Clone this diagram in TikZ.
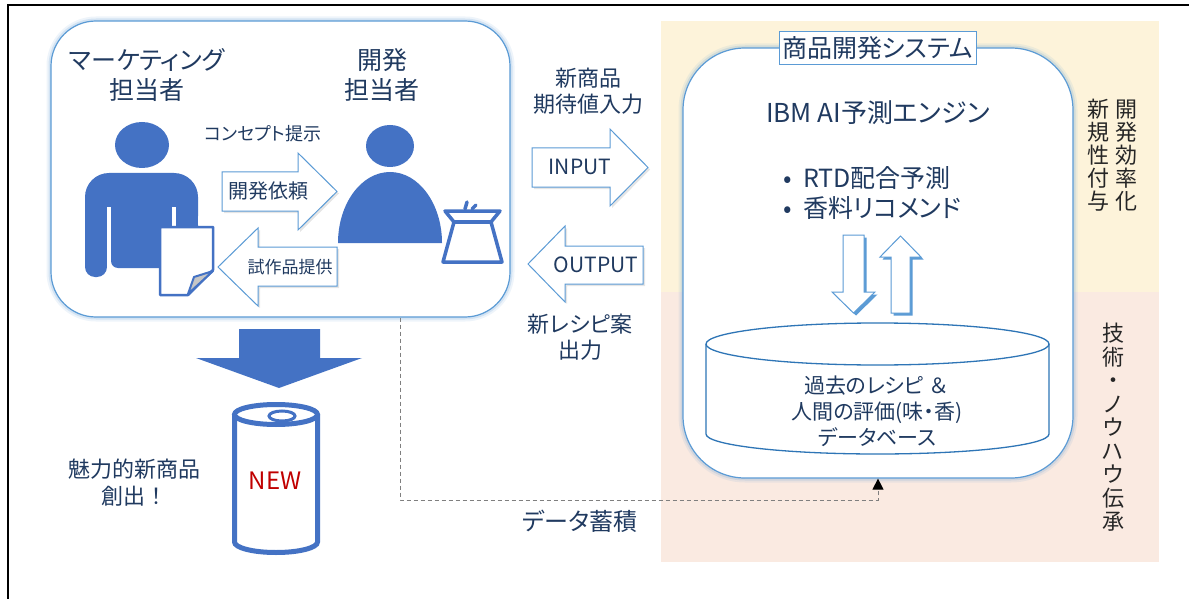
\documentclass[tikz,border=0pt]{standalone}
\usepackage{fontspec}
\setmainfont{Noto Sans CJK JP}[RawFeature=+palt]
\newfontfamily\fullwidth{Noto Sans CJK JP}
\usetikzlibrary{arrows.meta}

\definecolor{ink}{HTML}{203A60}
\definecolor{darkink}{HTML}{262626}
\definecolor{iconblue}{HTML}{4472C4}
\definecolor{edgeblue}{HTML}{5B9BD5}
\definecolor{dbblue}{HTML}{2E75B6}
\definecolor{panelyellow}{HTML}{FDF3DA}
\definecolor{panelpink}{HTML}{FAEAE1}
\definecolor{newred}{HTML}{C00000}
\definecolor{dashgray}{HTML}{7F7F7F}

\newcommand\setfs[2]{\fontsize{#1pt}{#2pt}\selectfont}

\tikzset{
  txt/.style={text=ink, inner sep=0pt, align=center},
  vtxt/.style={text=darkink, inner sep=0pt, align=center, font=\setfs{22}{23}},
  glowbox/.style={draw=edgeblue, line width=1.2, fill=white,
    preaction={draw=edgeblue, draw opacity=0.10, line width=9},
    preaction={draw=edgeblue, draw opacity=0.18, line width=5}},
  hollowarrow/.style={draw=edgeblue, line width=1, fill=white, line join=miter,
    preaction={fill=black, fill opacity=0.10,
      transform canvas={xshift=2pt, yshift=-2pt}}},
  twinarrow/.style={draw=edgeblue, line width=1, fill=white, line join=miter,
    preaction={fill=edgeblue, transform canvas={xshift=2.5pt, yshift=-2.5pt}}},
  icon/.style={fill=iconblue},
}

\begin{document}
\begin{tikzpicture}[x=1pt, y=-1pt]
\useasboundingbox (0,0) rectangle (1189,599);
\fill[white] (0,0) rectangle (1189,599);

% outer frame
\draw[black, line width=1.5] (8,599) -- (8,5) -- (1189,5);

% background bands of the system side
\fill[panelyellow] (661,21) rectangle (1159,292);
\fill[panelpink] (661,292) rectangle (1159,562);

% ---------- team box ----------
\node[glowbox, rounded corners=45, minimum width=459, minimum height=296, inner sep=0pt]
  (team) at (280.5,169) {};

\node[txt, font=\setfs{25}{30}] (mktitle) at (147,75) {マーケティング\\担当者};
\node[txt, font=\setfs{25}{30}] (devtitle) at (382,75) {開発\\担当者};
\node[txt, font=\setfs{18}{20}] (concept) at (263,134) {コンセプト提示};

% marketing person
\fill[icon] (142,145) ellipse [x radius=27pt, y radius=23pt];
\fill[icon, rounded corners=24] (85,173) rectangle (198,240);
\fill[icon] (85,205) rectangle (198,240);
\fill[icon, rounded corners=10] (85,215) rectangle (107,277);
\fill[icon, rounded corners=7] (111,215) rectangle (172,268);
\fill[icon, rounded corners=10] (176,215) rectangle (198,277);
\fill[white] (107,207) rectangle (111,270);
\fill[white] (172,207) rectangle (176,270);

% concept sheet with folded corner
\draw[iconblue, line width=2.5, fill=white, line join=round]
  (160,227) -- (213,227) -- (213,270) -- (188,295) -- (160,295) -- cycle;
\draw[iconblue, line width=2, fill=gray!45, line join=round]
  (213,271) -- (194,277) -- (188,294) -- cycle;

% developer person
\fill[icon] (390,146) ellipse [x radius=24pt, y radius=21pt];
\fill[icon] (338,243) arc [start angle=180, end angle=0, x radius=52pt, y radius=71pt] -- cycle;

% mortar
\draw[iconblue, line width=3.5, line join=round, fill=white]
  (445,211) -- (500,211) -- (491,222) -- (502,262) -- (443,262) -- (454,222) -- cycle;
\draw[iconblue, line width=3.5] (454,222) -- (491,222);
\draw[iconblue, line width=3.5, line cap=round] (465,209) -- (467,202);
\draw[iconblue, line width=3.5, line cap=round] (472,209) -- (476,205);

% request / prototype arrows
\draw[hollowarrow] (222,172) -- (298,172) -- (298,153) -- (337,191.5)
  -- (298,230) -- (298,211) -- (222,211) -- cycle;
\node[txt, font=\setfs{20}{22}] (request) at (268,191) {開発依頼};
\draw[hollowarrow] (218,267) -- (258,228) -- (258,247) -- (337,247)
  -- (337,286) -- (258,286) -- (258,306) -- cycle;
\node[txt, font=\setfs{17}{20}] (proto) at (290,267) {試作品提供};

% ---------- product ----------
\fill[icon] (239,329) -- (320,329) -- (320,358) -- (362,358) -- (279,388)
  -- (196,358) -- (239,358) -- cycle;

\draw[iconblue, line width=5, fill=white] (234.5,414.5) -- (234.5,542)
  arc [start angle=180, end angle=360, x radius=41.5pt, y radius=10.5pt]
  -- (317.5,414.5);
\draw[iconblue, line width=5, fill=white] (276,414.5) ellipse [x radius=41.5pt, y radius=10pt];
\draw[iconblue, line width=3] (282,416) ellipse [x radius=13pt, y radius=5pt];
\node[inner sep=0pt, text=newred, font=\setfs{24}{26}] (newlabel) at (275,481) {NEW};

\node[txt, font=\setfs{22}{27}] (create) at (134,483) {魅力的新商品\\創出{\fullwidth ！}};

% ---------- input / output ----------
\node[txt, font=\setfs{22}{26}] (inlabel) at (588,91) {新商品\\期待値入力};
\draw[hollowarrow] (532,148) -- (610,148) -- (610,129) -- (648,167.5)
  -- (610,206) -- (610,187) -- (532,187) -- cycle;
\node[txt, font=\setfs{21}{24}] (input) at (580,167) {INPUT};
\draw[hollowarrow] (528,264) -- (565,226) -- (565,246) -- (643,246)
  -- (643,284) -- (565,284) -- (565,302) -- cycle;
\node[txt, font=\setfs{21}{24}] (output) at (596,265) {OUTPUT};
\node[txt, font=\setfs{22}{26}] (outlabel) at (580,337) {新レシピ案\\出力};

% ---------- prediction system ----------
\node[glowbox, rounded corners=62, minimum width=390, minimum height=430, inner sep=0pt]
  (sysbox) at (878,263) {};
\node[draw=edgeblue, line width=1, fill=white, minimum width=197, minimum height=33,
  inner sep=0pt, text=ink, font=\setfs{25}{28}] (systitle) at (877.5,48.5) {商品開発システム};

\node[txt, font=\setfs{26}{30}] (engine) at (878,113) {IBM AI予測エンジン};
\node[txt, align=left, anchor=west, font=\setfs{25}{30}] (features) at (783,193)
  {\makebox[20pt][l]{•}RTD配合予測\\\makebox[20pt][l]{•}香料リコメンド};

% query / answer arrows between engine and database
\draw[twinarrow] (843,235) -- (864,235) -- (864,292) -- (875,292) -- (853.5,313)
  -- (832,292) -- (843,292) -- cycle;
\draw[twinarrow] (891,313) -- (891,257) -- (880,257) -- (900.5,236) -- (921,257)
  -- (910,257) -- (910,313) -- cycle;

% recipe database cylinder
\draw[dbblue, line width=1.3, fill=white] (706,344) -- (706,434)
  arc [start angle=180, end angle=360, x radius=171.5pt, y radius=20pt]
  -- (1049,344)
  arc [start angle=0, end angle=180, x radius=171.5pt, y radius=21pt] -- cycle;
\draw[dbblue, line width=1.3] (706,344)
  arc [start angle=180, end angle=360, x radius=171.5pt, y radius=21pt];
\node[txt, font=\setfs{21}{26}] (dbtext) at (877,411)
  {過去のレシピ {\fullwidth ＆}\\人間の評価(味・香)\\データベース};

% side notes
\node[vtxt] (effic) at (1126,155.5) {開\\発\\効\\率\\化};
\node[vtxt] (novel) at (1098,155.5) {新\\規\\性\\付\\与};
\node[vtxt, font=\setfs{22}{23.5}] (skill) at (1113,427.5) {技\\術\\・\\ノ\\ウ\\ハ\\ウ\\伝\\承};

% data accumulation link
\coordinate (accum) at (400,500);
\draw[dashgray, line width=1, dash pattern=on 4pt off 3pt,
  -{Triangle[color=black, length=11pt, width=11pt]}]
  (team.south -| accum) -- (accum) -| (sysbox.south);
\node[txt, font=\setfs{24}{26}] (accumlabel) at (580,521) {データ蓄積};

\end{tikzpicture}
\end{document}
